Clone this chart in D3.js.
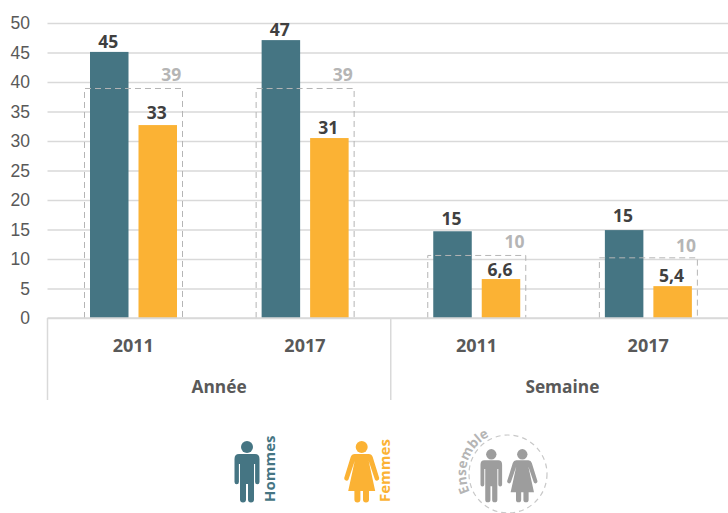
<!DOCTYPE html>
<html>
<head>
<meta charset="utf-8">
<script src="https://cdn.jsdelivr.net/npm/d3@7"></script>
<style>
  html, body { margin: 0; padding: 0; background: #fff; }
  svg { display: block; font-family: "Open Sans", sans-serif; }
  .grid line { stroke: #d9d9d9; stroke-width: 1.5; }
  .grid text { fill: #595959; font-size: 17.5px; }
  .cat { fill: #595959; font-weight: 700; text-anchor: middle; }
  .year { font-size: 18px; }
  .period { font-size: 17.3px; }
  .val { font-size: 17.5px; font-weight: 700; text-anchor: middle; }
</style>
</head>
<body>
<svg id="chart" width="728" height="513"></svg>
<script>
// values
const periods = ['Année', 'Année', 'Semaine', 'Semaine'];
const years = ['2011', '2017', '2011', '2017'];
const groups = ['Année', 'Semaine'];
const series = ['Hommes', 'Femmes'];
const hommes = [45.1, 47.1, 14.7, 14.9];
const femmes = [32.7, 30.5, 6.6, 5.4];
const ensemble = [38.9, 38.9, 10.6, 10.2];
const hommesLabels = ['45', '47', '15', '15'];
const femmesLabels = ['33', '31', '6,6', '5,4'];
const ensembleLabels = ['39', '39', '10', '10'];
const yTicks = [0, 5, 10, 15, 20, 25, 30, 35, 40, 45, 50];

const colors = {Hommes: '#457583', Femmes: '#fbb234', ensemble: '#b5b5b5', pict: '#9d9d9d'};

const margin = {top: 23, right: -6, bottom: 195, left: 47.5};
const svg = d3.select('#chart');
const width = +svg.attr('width') - margin.left - margin.right;
const height = +svg.attr('height') - margin.top - margin.bottom;
const chart = svg.append('g').attr('transform', `translate(${margin.left},${margin.top})`);

const x = d3.scaleBand().domain(d3.range(years.length)).range([0, width]);
const xInner = d3.scaleBand().domain(series).range([42.5, 129.5]).paddingInner(0.206);
const y = d3.scaleLinear().domain([0, 50]).range([height, 0]);

// gridlines and y labels
const yAxis = d3.axisLeft(y).tickValues(yTicks).tickSize(-width).tickPadding(17.5);
chart.append('g').attr('class', 'grid').call(yAxis)
    .call(g => g.select('.domain').remove());

// bars
const rows = years.map((d, i) => ({i, Hommes: hommes[i], Femmes: femmes[i]}));
const barData = rows.flatMap(r => series.map(s => ({i: r.i, s, v: r[s]})));
chart.selectAll('.bar')
    .data(barData)
  .join('rect')
    .attr('class', 'bar')
    .attr('x', d => x(d.i) + xInner(d.s))
    .attr('y', d => y(d.v))
    .attr('width', xInner.bandwidth())
    .attr('height', d => height - y(d.v))
    .attr('fill', d => colors[d.s]);

// dashed "ensemble" box over each pair
chart.selectAll('.ens')
    .data(ensemble)
  .join('path')
    .attr('class', 'ens')
    .attr('d', (d, i) => {
      const x0 = x(i) + xInner('Hommes') - 5.5, x1 = x(i) + xInner('Femmes') + xInner.bandwidth() + 5.5;
      return `M${x0},${height}V${y(d)}H${x1}V${height}`;
    })
    .attr('fill', 'none')
    .attr('stroke', colors.ensemble)
    .attr('stroke-width', 1)
    .attr('stroke-dasharray', '6,4');

// value labels, the offsets are how far each one sits above its mark
const valLabel = (cls, vals, labels, dx, gaps, fill) => chart.selectAll('.' + cls)
    .data(vals)
  .join('text')
    .attr('class', 'val ' + cls)
    .attr('x', (d, i) => x(i) + dx)
    .attr('y', (d, i) => y(d) - gaps[i])
    .attr('fill', fill)
    .text((d, i) => labels[i]);

const w = xInner.bandwidth();
valLabel('lab-h', hommes, hommesLabels, xInner('Hommes') + w / 2 - 1, [4, 4, 6, 8], '#404040');
valLabel('lab-f', femmes, femmesLabels, xInner('Femmes') + w / 2 - 1, [6, 4, 3.5, 4.5], '#404040');
valLabel('lab-e', ensemble, ensembleLabels, xInner('Femmes') + w / 2 + 13.5, [7.5, 7.5, 7.5, 6], colors.ensemble);

// category axis
const axisG = chart.append('g').attr('stroke', '#d9d9d9').attr('stroke-width', 1.5);
axisG.append('line').attr('x1', 0).attr('x2', width).attr('y1', height).attr('y2', height);
[0, 2].forEach(i => {
  axisG.append('line')
      .attr('x1', x(i)).attr('x2', x(i))
      .attr('y1', height).attr('y2', height + 82);
});

chart.selectAll('.year')
    .data(years)
  .join('text')
    .attr('class', 'cat year')
    .attr('x', (d, i) => x(i) + x.bandwidth() / 2)
    .attr('y', height + 34)
    .text(d => d);

chart.selectAll('.period')
    .data(groups)
  .join('text')
    .attr('class', 'cat period')
    .attr('x', d => {
      const idx = d3.range(periods.length).filter(i => periods[i] === d);
      return x(idx[0]) + x.bandwidth();
    })
    .attr('y', height + 75)
    .text(d => d);

// pictograms, local coordinates: origin at head centre
const manPath = 'M-8,-1 H8 Q12.5,-1 12.5,4 V27 a2.2,2.2 0 0 1 -4.4,0 V9 H7 V44.5 a3,3 0 0 1 -6,0 V29 H-1 V44.5 a3,3 0 0 1 -6,0 V9 H-8.1 V27 a2.2,2.2 0 0 1 -4.4,0 V4 Q-12.5,-1 -8,-1 Z';
const womanPath = 'M-7,-1 H7 Q10,-1 11,2 L17.5,23 a2.3,2.3 0 0 1 -4.3,1.4 L7,6 L13.5,36 H7.3 V44.5 a3,3 0 0 1 -6,0 V36 H-1.3 V44.5 a3,3 0 0 1 -6,0 V36 H-13.5 L-7,6 L-13.2,24.4 a2.3,2.3 0 0 1 -4.3,-1.4 L-11,2 Q-10,-1 -7,-1 Z';

function pict(path, cx, headY, color, scale) {
  const g = svg.append('g').attr('transform', `translate(${cx},${headY}) scale(${scale})`).attr('fill', color);
  g.append('circle').attr('r', 6);
  g.append('path').attr('d', path).attr('transform', 'translate(0,8)');
}

pict(manPath, 247, 447, colors.Hommes, 1);
pict(womanPath, 361.7, 447, colors.Femmes, 1);
pict(manPath, 491.3, 454.3, colors.pict, 0.865);
pict(womanPath, 522.3, 454.3, colors.pict, 0.865);

// vertical legend labels
const vLabel = (txt, px, py, color) => svg.append('text')
    .attr('transform', `translate(${px},${py}) rotate(-90)`)
    .attr('fill', color)
    .attr('font-size', 15)
    .attr('font-weight', 700)
    .text(txt);
vLabel('Hommes', 275, 502, colors.Hommes);
vLabel('Femmes', 390, 502, colors.Femmes);

// ensemble circle with curved label
svg.append('circle')
    .attr('cx', 508).attr('cy', 474).attr('r', 39)
    .attr('fill', 'none')
    .attr('stroke', '#c8c8c8')
    .attr('stroke-width', 1.2)
    .attr('stroke-dasharray', '5,4');

const arc = d3.path();
arc.arc(508, 474, 42, Math.PI * 0.86, Math.PI * 1.6);
svg.append('defs').append('path').attr('id', 'ensArc').attr('d', arc.toString());
svg.append('text')
    .attr('fill', colors.ensemble)
    .attr('font-size', 13.5)
    .attr('font-weight', 700)
    .append('textPath')
    .attr('href', '#ensArc')
    .text('Ensemble');
</script>
</body>
</html>
